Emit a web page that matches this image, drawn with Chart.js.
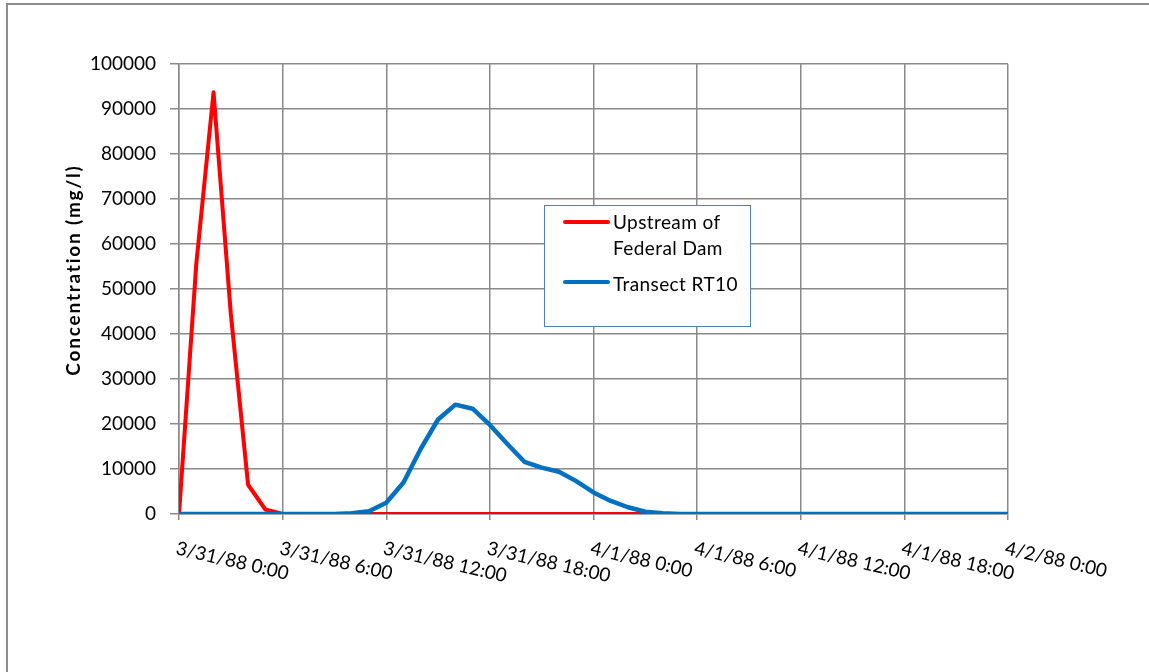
<!DOCTYPE html>
<html>
<head>
<meta charset="utf-8">
<script src="https://cdn.jsdelivr.net/npm/chart.js@4.4.1/dist/chart.umd.min.js"></script>
<style>
  html, body { margin: 0; padding: 0; background: #ffffff; }
  canvas { display: block; }
</style>
</head>
<body>
<canvas id="chart" width="1149" height="672"></canvas>
<script>
// Hours since 3/31/88 0:00 (hourly samples)
const hours = [
  0, 1, 2, 3, 4, 5, 6, 7, 8, 9, 10, 11, 12, 13, 14, 15, 16, 17, 18, 19, 20, 21, 22, 23, 24,
  25, 26, 27, 28, 29, 30, 31, 32, 33, 34, 35, 36, 37, 38, 39, 40, 41, 42, 43, 44, 45, 46, 47, 48
];

// Concentration (mg/l) upstream of Federal Dam
const upstreamFederalDam = [
  0, 55500, 93700, 44500, 6500, 1000, 0, 0, 0, 0, 0, 0, 0, 0, 0, 0, 0, 0, 0, 0, 0, 0, 0, 0, 0,
  0, 0, 0, 0, 0, 0, 0, 0, 0, 0, 0, 0, 0, 0, 0, 0, 0, 0, 0, 0, 0, 0, 0, 0
];

// Concentration (mg/l) at Transect RT10
const transectRT10 = [
  0, 0, 0, 0, 0, 0, 0, 0, 0, 0, 150, 600, 2500, 7000, 14500, 21000, 24300, 23400, 19800, 15600,
  11600, 10300, 9400, 7300, 4800, 2900, 1500, 500, 150, 0, 0, 0, 0, 0, 0, 0, 0, 0, 0, 0, 0, 0, 0,
  0, 0, 0, 0, 0, 0
];

// Date-time labels every 6 hours
const tickHours = [0, 6, 12, 18, 24, 30, 36, 42, 48];
const tickLabels = [
  '3/31/88 0:00', '3/31/88 6:00', '3/31/88 12:00', '3/31/88 18:00',
  '4/1/88 0:00', '4/1/88 6:00', '4/1/88 12:00', '4/1/88 18:00', '4/2/88 0:00'
];

const seriesNames = ['Upstream of Federal Dam', 'Transect RT10'];
const seriesLegendLines = [['Upstream of', 'Federal Dam'], ['Transect RT10']];
const seriesColors = ['#ff0000', '#0070c0'];

const yTitle = 'Concentration (mg/l)';

const GRID = '#8a8a8a';
const FONT = 'Lato, "Open Sans", sans-serif';
Chart.defaults.font.family = FONT;

function toPoints(values) {
  return values.map((v, i) => ({ x: hours[i], y: v }));
}

// Outer frame, y-axis title, slanted date labels and the inset legend
const decorations = {
  id: 'decorations',
  beforeDraw(chart) {
    const ctx = chart.ctx;
    ctx.save();
    ctx.fillStyle = '#ffffff';
    ctx.fillRect(0, 0, chart.width, chart.height);
    ctx.strokeStyle = '#8c8c8c';
    ctx.lineWidth = 2;
    ctx.beginPath();
    ctx.moveTo(7, chart.height);
    ctx.lineTo(7, 4);
    ctx.lineTo(chart.width, 4);
    ctx.stroke();
    ctx.restore();
  },
  afterDraw(chart) {
    const ctx = chart.ctx;
    const xs = chart.scales.x;
    const area = chart.chartArea;

    // y-axis title
    ctx.save();
    ctx.translate(74, 270);
    ctx.rotate(-Math.PI / 2);
    ctx.font = 'bold 19px ' + FONT;
    if ('letterSpacing' in ctx) ctx.letterSpacing = '1.8px';
    ctx.fillStyle = '#000000';
    ctx.textAlign = 'center';
    ctx.textBaseline = 'middle';
    ctx.fillText(yTitle, 0, 0);
    ctx.restore();

    // slanted x tick labels
    ctx.save();
    ctx.font = '19px ' + FONT;
    ctx.fillStyle = '#000000';
    ctx.textAlign = 'left';
    ctx.textBaseline = 'alphabetic';
    tickLabels.forEach((label, i) => {
      const px = xs.getPixelForValue(tickHours[i]);
      ctx.save();
      ctx.translate(px - 4, area.bottom + 40);
      ctx.rotate(13 * Math.PI / 180);
      ctx.fillText(label, 0, 0);
      ctx.restore();
    });
    ctx.restore();

    // legend box
    const box = { x: 544.5, y: 205.5, w: 206, h: 121 };
    ctx.save();
    ctx.fillStyle = '#ffffff';
    ctx.fillRect(box.x, box.y, box.w, box.h);
    ctx.strokeStyle = '#4f81bd';
    ctx.lineWidth = 1;
    ctx.strokeRect(box.x, box.y, box.w, box.h);

    ctx.font = '19px ' + FONT;
    if ('letterSpacing' in ctx) ctx.letterSpacing = '0.4px';
    ctx.fillStyle = '#000000';
    ctx.textAlign = 'left';
    ctx.textBaseline = 'alphabetic';
    ctx.lineCap = 'round';
    ctx.lineWidth = 4;
    const entries = [
      { lineY: 222, baselines: [229, 255] },
      { lineY: 282, baselines: [291] }
    ];
    entries.forEach((e, i) => {
      ctx.strokeStyle = seriesColors[i];
      ctx.beginPath();
      ctx.moveTo(565, e.lineY);
      ctx.lineTo(608, e.lineY);
      ctx.stroke();
      seriesLegendLines[i].forEach((txt, j) => {
        ctx.fillText(txt, 613, e.baselines[j]);
      });
    });
    ctx.restore();
  }
};

new Chart(document.getElementById('chart'), {
  type: 'line',
  data: {
    datasets: [
      {
        label: seriesNames[0],
        data: toPoints(upstreamFederalDam),
        borderColor: seriesColors[0],
        backgroundColor: seriesColors[0],
        borderWidth: 4,
        pointRadius: 0,
        tension: 0,
        borderJoinStyle: 'round',
        order: 2
      },
      {
        label: seriesNames[1],
        data: toPoints(transectRT10),
        borderColor: seriesColors[1],
        backgroundColor: seriesColors[1],
        borderWidth: 4.5,
        pointRadius: 0,
        tension: 0,
        borderJoinStyle: 'round',
        order: 1
      }
    ]
  },
  options: {
    responsive: false,
    animation: false,
    events: [],
    layout: { padding: { left: 0, top: 64, right: 141, bottom: 0 } },
    plugins: {
      legend: { display: false },
      tooltip: { enabled: false }
    },
    scales: {
      x: {
        type: 'linear',
        min: 0,
        max: 48,
        afterBuildTicks(scale) {
          scale.ticks = tickHours.map(v => ({ value: v }));
        },
        ticks: { display: false },
        grid: { color: GRID, lineWidth: 1.5, tickLength: 6, drawTicks: true },
        border: { color: GRID, width: 1.5 },
        afterFit(scale) { scale.height = 158; }
      },
      y: {
        min: 0,
        max: 100000,
        ticks: {
          stepSize: 10000,
          color: '#000000',
          padding: 14,
          font: { size: 19 },
          callback: (v) => String(v)
        },
        grid: { color: GRID, lineWidth: 1.5, tickLength: 9, drawTicks: true },
        border: { color: GRID, width: 1.5 },
        afterFit(scale) { scale.width = 179; }
      }
    }
  },
  plugins: [decorations]
});
</script>
</body>
</html>
